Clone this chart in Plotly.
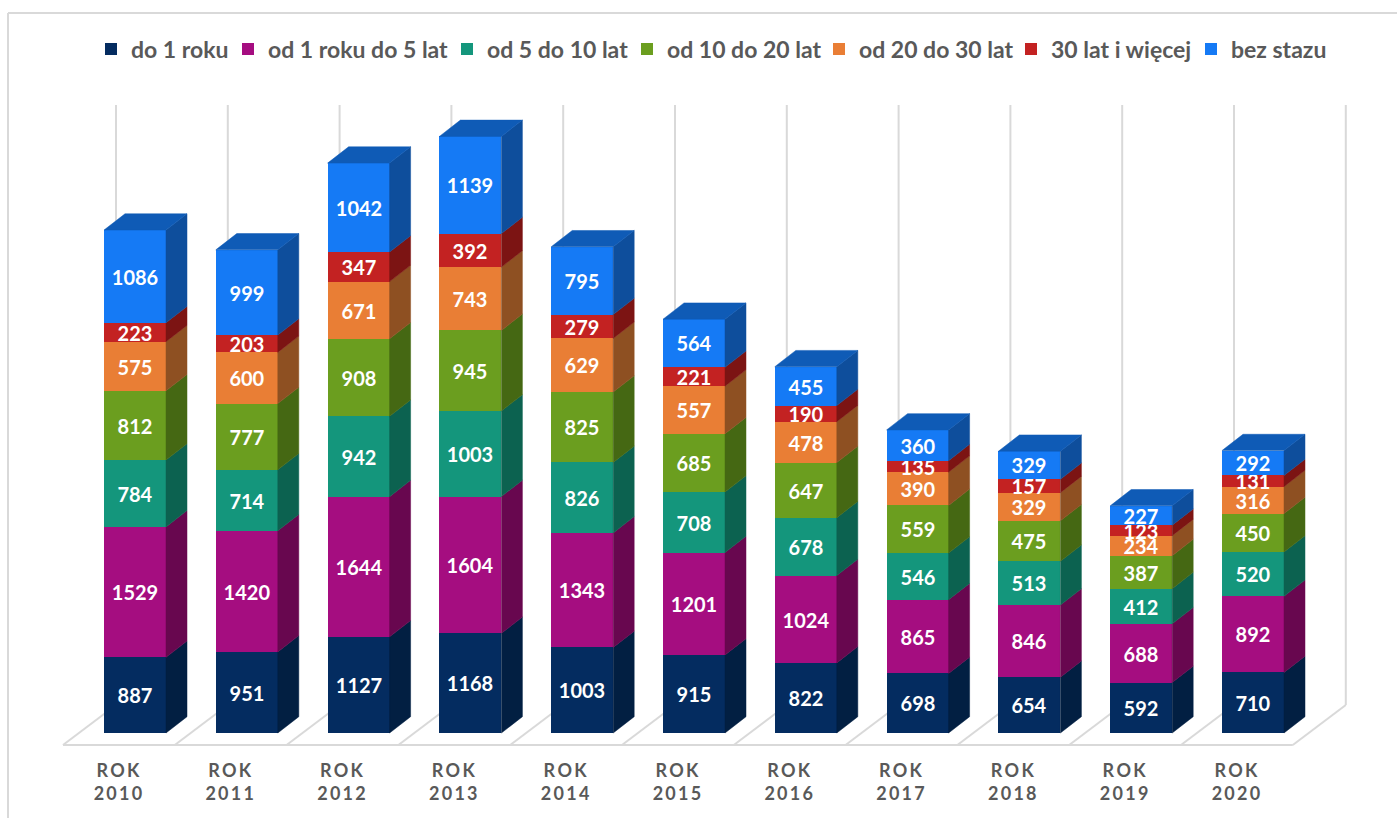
import plotly.graph_objects as go

years = [2010, 2011, 2012, 2013, 2014, 2015, 2016, 2017, 2018, 2019, 2020]
do_1 = [887, 951, 1127, 1168, 1003, 915, 822, 698, 654, 592, 710]
od_1_5 = [1529, 1420, 1644, 1604, 1343, 1201, 1024, 865, 846, 688, 892]
od_5_10 = [784, 714, 942, 1003, 826, 708, 678, 546, 513, 412, 520]
od_10_20 = [812, 777, 908, 945, 825, 685, 647, 559, 475, 387, 450]
od_20_30 = [575, 600, 671, 743, 629, 557, 478, 390, 329, 234, 316]
od_30 = [223, 203, 347, 392, 279, 221, 190, 135, 157, 123, 131]
bez = [1086, 999, 1042, 1139, 795, 564, 455, 360, 329, 227, 292]

names = ["do 1 roku", "od 1 roku do 5 lat", "od 5 do 10 lat", "od 10 do 20 lat",
         "od 20 do 30 lat", "30 lat i więcej", "bez stazu"]
series = [do_1, od_1_5, od_5_10, od_10_20, od_20_30, od_30, bez]
front = ["#042C60", "#A50D80", "#14967C", "#6B9E1F", "#E97E35", "#C32222", "#157AF5"]
side = ["#021F42", "#68074F", "#0C6250", "#456813", "#8E5022", "#7C1413", "#0E4E9C"]
legend_text_px = [131, 268, 487, 667, 859, 1051, 1231]
top_col = "#0F5BB6"
FONT = "Lato"

# pixel layout
W, H = 1397, 818
L, R, T, B = 40, 1380, 90, 750
STEP = 111.8
X0 = 119
Y0 = 733
PX = 0.0853
xr = [(L - X0) / STEP, (R - X0) / STEP]
yr = [(Y0 - B) / PX, (Y0 - T) / PX]
OFF = 16 / STEP
BW = 62 / STEP
DX = 21 / STEP
DY = 16.3 / PX

fig = go.Figure()
xs = [i + OFF for i in range(len(years))]
for n, (name, vals, col) in enumerate(zip(names, series, front)):
    fig.add_bar(x=xs, y=vals, name=name, width=BW, marker=dict(color=col, line=dict(width=0)),
                text=[str(v) for v in vals], textposition="inside", insidetextanchor="middle",
                textangle=0, constraintext="none", cliponaxis=False,
                textfont=dict(family=FONT, size=20, color="white", weight="bold"),
                hoverinfo="skip", legend="legend" if n == 0 else f"legend{n + 1}")

base = [0] * len(years)
for vals, col in zip(series, side):
    px_, py_ = [], []
    for i, v in enumerate(vals):
        r = xs[i] + BW / 2
        b0, b1 = base[i], base[i] + v
        px_ += [r, r + DX, r + DX, r, r, None]
        py_ += [b0, b0 + DY, b1 + DY, b1, b0, None]
    fig.add_scatter(x=px_, y=py_, mode="lines", fill="toself", fillcolor=col,
                    line=dict(color=col, width=0.5), showlegend=False, hoverinfo="skip")
    base = [a + v for a, v in zip(base, vals)]

tx, ty = [], []
for i, t in enumerate(base):
    l = xs[i] - BW / 2
    r = xs[i] + BW / 2
    tx += [l, l + DX, r + DX, r, l, None]
    ty += [t, t + DY, t + DY, t, t, None]
fig.add_scatter(x=tx, y=ty, mode="lines", fill="toself", fillcolor=top_col,
                line=dict(color=top_col, width=0.5), showlegend=False, hoverinfo="skip")

GRID = "#D9D9D9"
def pxx(p): return (p - L) / (R - L)
def pyy(p): return (B - p) / (B - T)
shapes = []
g_top = (Y0 - 105) / PX
g_back = (Y0 - 705) / PX
g_front = (Y0 - 745) / PX
for k in range(12):
    xb = (116 - X0) / STEP + k
    xf = (63 - X0) / STEP + k
    ln = dict(color=GRID, width=2)
    shapes.append(dict(type="line", xref="x", yref="y", x0=xb, x1=xb, y0=g_back, y1=g_top, line=ln, layer="below"))
    shapes.append(dict(type="line", xref="x", yref="y", x0=xf, x1=xb, y0=g_front, y1=g_back, line=ln, layer="below"))
shapes.append(dict(type="line", xref="x", yref="y", x0=(63 - X0) / STEP, x1=(63 - X0) / STEP + 11,
                   y0=g_front, y1=g_front, line=dict(color=GRID, width=2), layer="below"))
# outer frame
shapes.append(dict(type="line", xref="paper", yref="paper", x0=pxx(8), x1=pxx(W), y0=pyy(13), y1=pyy(13), line=dict(color=GRID, width=2)))
shapes.append(dict(type="line", xref="paper", yref="paper", x0=pxx(8), x1=pxx(8), y0=pyy(13), y1=pyy(H), line=dict(color=GRID, width=2)))

legends = {}
for n, tp in enumerate(legend_text_px):
    legends["legend" if n == 0 else f"legend{n + 1}"] = dict(
        orientation="h", xref="container", yref="container",
        x=(tp - 40) / W, xanchor="left", y=1 - 49 / H, yanchor="middle",
        font=dict(family=FONT, size=23, color="#595959", weight="bold"),
        bgcolor="rgba(0,0,0,0)")

fig.update_layout(
    width=W, height=H, autosize=False, barmode="stack", bargap=0,
    margin=dict(l=L, r=W - R, t=T, b=H - B, pad=0),
    paper_bgcolor="white", plot_bgcolor="white",
    shapes=shapes,
    xaxis=dict(range=xr, tickmode="array", tickvals=[i - 0.01 for i in range(len(years))],
               ticktext=[f"R\u2009O\u2009K<br>{'\u2009'.join(str(y))}" for y in years],
               tickfont=dict(family=FONT, size=18, color="#595959", weight="bold"),
               showgrid=False, zeroline=False, showline=False, ticks="outside", ticklen=4,
               tickcolor="rgba(0,0,0,0)", tickangle=0),
    yaxis=dict(range=yr, visible=False),
    hovermode=False,
    **legends,
)
fig.write_html("out.html", post_script="document.body.style.margin='0';",
               config={"displayModeBar": False})
